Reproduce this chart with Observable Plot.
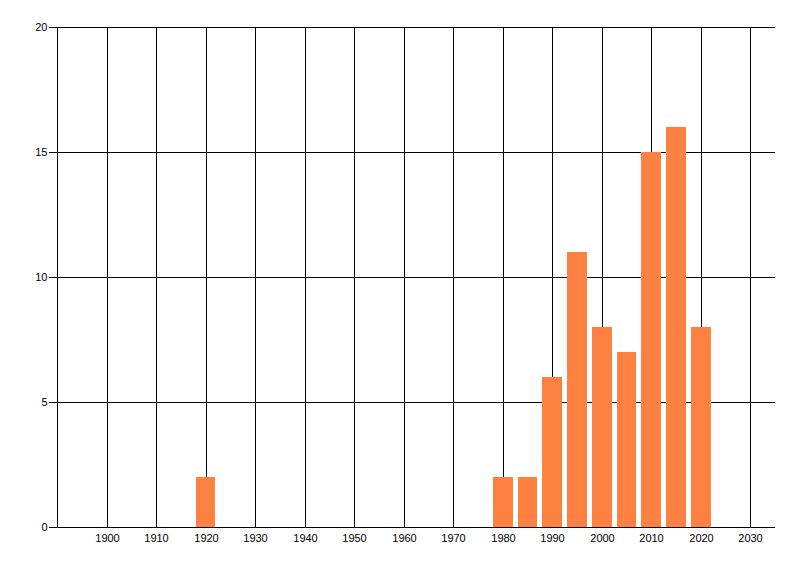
<!DOCTYPE html>
<html>
<head>
<meta charset="utf-8">
<script src="https://cdn.jsdelivr.net/npm/d3@7"></script>
<script src="https://cdn.jsdelivr.net/npm/@observablehq/plot@0.6"></script>
<style>
  html, body { margin: 0; padding: 0; background: #fff; }
  svg { display: block; }
</style>
</head>
<body>
<div id="chart"></div>
<script>
const years = [1920, 1980, 1985, 1990, 1995, 2000, 2005, 2010, 2015, 2020];
const counts = [2, 2, 2, 6, 11, 8, 7, 15, 16, 8];
const xTicks = [1900, 1910, 1920, 1930, 1940, 1950, 1960, 1970, 1980, 1990, 2000, 2010, 2020, 2030];
const yTicks = [0, 5, 10, 15, 20];
const barHalfWidth = 2;

const data = years.map((y, i) => ({year: y, value: counts[i]}));

const chart = Plot.plot({
  width: 800,
  height: 576,
  marginLeft: 57,
  marginRight: 25,
  marginTop: 27,
  marginBottom: 49,
  style: {fontFamily: "'Liberation Sans', Arial, sans-serif", fontSize: "11px", color: "#000", background: "#fff"},
  x: {domain: [1890, 2035], round: true, ticks: xTicks, tickFormat: d => String(d), tickSize: 0, tickPadding: 7, label: null},
  y: {domain: [0, 20], round: true, ticks: yTicks, tickSize: 8, tickPadding: 2, label: null},
  marks: [
    Plot.gridX(xTicks, {stroke: "#000", strokeOpacity: 1, strokeWidth: 1}),
    Plot.gridY(yTicks.filter(d => d > 0), {stroke: "#000", strokeOpacity: 1, strokeWidth: 1}),
    Plot.rectY(data, {x1: d => d.year - barHalfWidth, x2: d => d.year + barHalfWidth, y: "value", fill: "#ff8142", inset: 0}),
    Plot.ruleY([0], {stroke: "#000", strokeWidth: 1}),
    Plot.ruleX([1890], {stroke: "#000", strokeWidth: 1})
  ]
});
document.getElementById("chart").appendChild(chart);
</script>
</body>
</html>
